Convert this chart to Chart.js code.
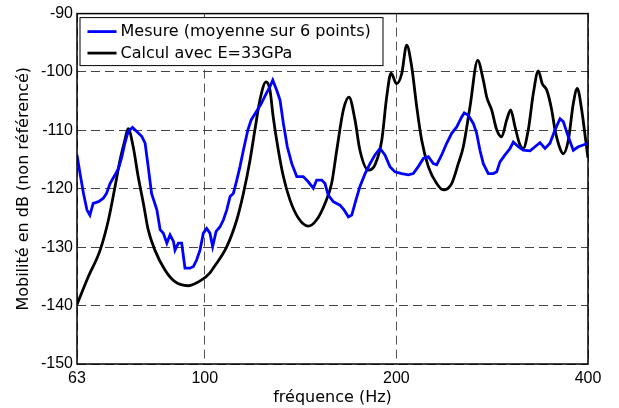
<!DOCTYPE html>
<html>
<head>
<meta charset="utf-8">
<script src="https://cdn.jsdelivr.net/npm/chart.js@4.4.1/dist/chart.umd.min.js"></script>
<style>
  html, body { margin: 0; padding: 0; background: #fff; }
  #wrap { width: 619px; height: 408px; }
</style>
</head>
<body>
<div id="wrap"><canvas id="c" width="619" height="408"></canvas></div>
<script>
// ---- data ----
const xTicks = [63, 100, 200, 400];
const yMin = -150, yMax = -90, yStep = 10;

const seriesLabels = ["Mesure (moyenne sur 6 points)", "Calcul avec E=33GPa"];

const mesFreq = [63, 63.7, 64.5, 65.3, 66.0, 66.8, 68.1, 69.3, 70.1, 71.0, 72.3, 73.2, 74.1, 74.9, 75.8, 77.0, 78.2, 79.6, 80.6, 81.5, 82.5, 84.1, 85.1, 86.1, 87.2, 88.2, 89.3, 89.8, 90.9, 92.0, 93.1, 94.8, 96.0, 97.1, 98.3, 99.5, 100.7, 101.9, 102.9, 104.2, 105.7, 107.0, 108.3, 109.6, 110.9, 112.3, 113.6, 115.0, 116.9, 118.3, 120.5, 122.7, 124.9, 126.6, 127.9, 129.7, 131.3, 132.9, 134.8, 137.0, 139.5, 142.8, 145.4, 148.1, 149.9, 152.7, 154.5, 156.3, 159.2, 163.1, 165.5, 168.1, 170.2, 172.2, 175.3, 178.6, 181.8, 185.1, 188.5, 191.9, 195.4, 199.0, 203.9, 208.8, 212.6, 216.5, 220.5, 224.5, 228.6, 231.4, 235.6, 239.9, 244.3, 248.8, 253.3, 255.7, 259.4, 264.2, 267.4, 270.6, 273.9, 278.9, 284.0, 287.5, 290.9, 296.3, 301.7, 305.3, 310.9, 316.5, 324.3, 330.2, 336.2, 342.4, 348.6, 355.0, 361.5, 365.8, 372.5, 379.3, 386.2, 393.2, 400];
const mesDb = [-114.2, -117.4, -120.8, -123.6, -124.5, -122.5, -122.2, -121.6, -120.8, -119.1, -117.6, -116.5, -114.5, -112.2, -110.2, -109.5, -110.2, -111.0, -112.2, -116.2, -120.8, -123.6, -127.0, -127.6, -129.3, -127.9, -129.0, -130.5, -129.3, -129.3, -133.6, -133.6, -133.3, -132.2, -130.5, -127.6, -126.8, -127.6, -129.9, -127.3, -126.5, -125.3, -123.6, -121.3, -120.8, -118.5, -116.2, -113.4, -109.9, -108.2, -106.8, -105.4, -103.7, -102.5, -101.4, -103.1, -104.8, -108.8, -112.8, -115.7, -117.9, -117.9, -118.8, -119.9, -118.5, -118.5, -119.1, -121.1, -122.2, -122.8, -123.6, -124.8, -124.5, -122.5, -119.6, -117.4, -115.7, -114.2, -113.1, -114.2, -116.2, -117.1, -117.4, -117.6, -117.4, -116.2, -114.8, -114.5, -115.7, -115.9, -114.2, -112.2, -110.5, -109.4, -107.7, -107.0, -107.4, -108.8, -110.5, -113.4, -115.7, -117.4, -117.4, -117.1, -115.4, -114.2, -113.1, -112.0, -112.8, -113.4, -113.5, -112.8, -112.1, -113.1, -112.2, -109.9, -108.0, -108.5, -111.1, -113.4, -112.8, -112.5, -112.2];

const calcFreq = [63, 65.6, 68.5, 70.6, 72.3, 73.6, 74.9, 75.8, 77.2, 78.6, 80.1, 81.5, 83.5, 86.6, 89.8, 94.2, 98.9, 101.9, 103.1, 108.3, 112.3, 115.0, 117.8, 119.9, 122.1, 124.8, 126.6, 128.1, 130.5, 132.9, 136.1, 140.3, 145.4, 149.9, 154.5, 158.3, 161.2, 165.1, 168.5, 172.2, 175.3, 180.7, 185.1, 189.7, 193.1, 196.2, 200.2, 203.9, 207.6, 211.4, 215.3, 219.2, 224.5, 231.4, 237.0, 244.3, 250.2, 254.8, 261.0, 268.4, 273.9, 277.3, 282.3, 287.5, 292.7, 298.1, 302.4, 307.2, 312.8, 316.5, 322.3, 328.2, 334.2, 339.0, 344.5, 350.8, 355.0, 361.5, 365.8, 372.5, 379.3, 384.8, 391.0, 396.7, 400];
const calcDb = [-139.8, -135.1, -130.5, -125.3, -119.6, -115.1, -111.7, -109.7, -112.8, -117.9, -122.5, -127.0, -130.5, -133.9, -135.9, -136.6, -135.6, -134.4, -133.6, -129.9, -125.3, -120.8, -115.1, -109.9, -104.8, -101.7, -103.1, -107.7, -113.4, -117.9, -121.9, -125.0, -126.4, -125.3, -122.5, -119.0, -113.4, -106.5, -104.3, -108.2, -113.4, -116.8, -115.9, -111.7, -104.3, -100.2, -102.0, -100.3, -95.4, -99.1, -106.0, -111.7, -116.2, -119.1, -120.2, -119.1, -115.7, -112.8, -106.0, -98.0, -101.4, -104.3, -106.5, -109.9, -111.1, -108.2, -106.5, -109.4, -112.5, -113.1, -109.9, -103.7, -99.8, -102.0, -103.1, -106.5, -109.9, -113.1, -114.0, -111.7, -105.4, -102.8, -106.5, -111.7, -114.7];

const seriesColors = ["#0000FF", "#000000"];

// ---- build ----
const toPts = (xs, ys) => xs.map((x, i) => ({ x: x, y: ys[i] }));

const frameAndLegend = {
  id: 'frameAndLegend',
  beforeDraw(chart) {
    const ctx = chart.ctx;
    ctx.save();
    ctx.fillStyle = '#fff';
    ctx.fillRect(0, 0, chart.width, chart.height);
    ctx.restore();
  },
  afterDraw(chart) {
    const ctx = chart.ctx;
    const a = chart.chartArea;
    ctx.save();
    // frame
    ctx.strokeStyle = '#000';
    ctx.lineWidth = 1.5;
    ctx.setLineDash([]);
    ctx.strokeRect(a.left, a.top, a.right - a.left, a.bottom - a.top);
    // legend box
    const bx = a.left + 2.5, by = a.top + 3.5, bw = 303, bh = 48;
    ctx.fillStyle = '#fff';
    ctx.fillRect(bx, by, bw, bh);
    ctx.lineWidth = 1;
    ctx.strokeRect(bx + 0.5, by + 0.5, bw, bh);
    ctx.font = '16px "DejaVu Sans"';
    ctx.textBaseline = 'middle';
    ctx.textAlign = 'left';
    chart.data.datasets.forEach((ds, i) => {
      const y = by + 14.5 + i * 21.5;
      ctx.strokeStyle = ds.borderColor;
      ctx.lineWidth = 2.8;
      ctx.beginPath();
      ctx.moveTo(bx + 8, y);
      ctx.lineTo(bx + 37, y);
      ctx.stroke();
      ctx.fillStyle = '#000';
      ctx.fillText(ds.label, bx + 41, y + 0.5);
    });
    ctx.restore();
  }
};

new Chart(document.getElementById('c'), {
  type: 'line',
  data: {
    datasets: [
      {
        label: seriesLabels[0],
        data: toPts(mesFreq, mesDb),
        borderColor: seriesColors[0],
        borderWidth: 2.8,
        pointRadius: 0,
        tension: 0,
        fill: false
      },
      {
        label: seriesLabels[1],
        data: toPts(calcFreq, calcDb),
        borderColor: seriesColors[1],
        borderWidth: 2.8,
        pointRadius: 0,
        cubicInterpolationMode: 'monotone',
        fill: false
      }
    ]
  },
  options: {
    responsive: false,
    animation: false,
    devicePixelRatio: 1,
    layout: { padding: { left: 0, top: 13, right: 31, bottom: 0 } },
    plugins: { legend: { display: false }, tooltip: { enabled: false } },
    scales: {
      x: {
        type: 'logarithmic',
        min: 63,
        max: 400,
        afterBuildTicks: (s) => { s.ticks = xTicks.map(v => ({ value: v })); },
        afterFit: (s) => { s.height = 44; },
        ticks: {
          autoSkip: false,
          maxRotation: 0,
          padding: 5,
          color: '#000',
          font: { family: 'Liberation Sans, Arial', size: 16 },
          callback: (v) => String(v)
        },
        grid: { color: '#555', lineWidth: 1, drawTicks: false },
        border: { display: false, dash: [9, 5] },
        title: {
          display: true,
          text: 'fréquence (Hz)',
          color: '#000',
          font: { family: 'DejaVu Sans', size: 16 },
          padding: { top: 0, bottom: 1 }
        }
      },
      y: {
        min: yMin,
        max: yMax,
        afterFit: (s) => { s.width = 77; },
        ticks: {
          stepSize: yStep,
          padding: 4,
          color: '#000',
          font: { family: 'Liberation Sans, Arial', size: 16 }
        },
        grid: { color: '#444', lineWidth: 1, drawTicks: false },
        border: { display: false, dash: [9, 5] },
        title: {
          display: true,
          text: 'Mobilité en dB (non référencé)',
          color: '#000',
          font: { family: 'DejaVu Sans', size: 16 },
          padding: { top: 14, bottom: 0 }
        }
      }
    }
  },
  plugins: [frameAndLegend]
});
</script>
</body>
</html>
